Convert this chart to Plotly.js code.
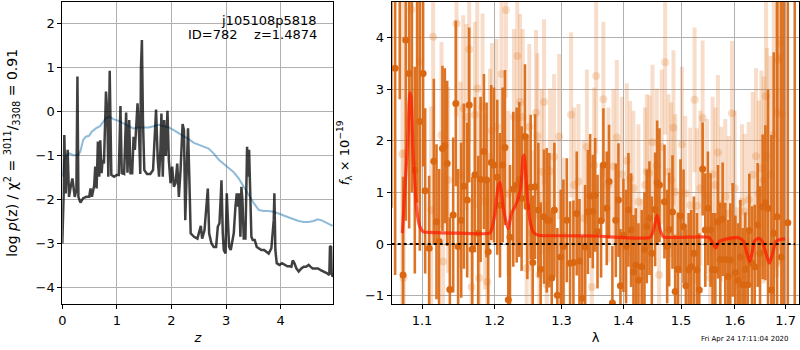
<!DOCTYPE html>
<html>
<head>
<meta charset="utf-8">
<script src="https://cdn.plot.ly/plotly-3.0.1.min.js"></script>
<style>html,body{margin:0;padding:0;background:#fff;}#plot{width:800px;height:350px;}</style>
</head>
<body>
<div id="plot"></div>
<script>
// ---- Left panel: log p(z) ----
const zPz = [0,0.025,0.037,0.062,0.098,0.123,0.154,0.185,0.228,0.258,0.277,0.295,0.332,0.382,0.443,0.492,0.517,0.542,0.585,0.603,0.628,0.652,0.677,0.695,0.72,0.738,0.763,0.782,0.80,0.825,0.843,0.868,0.886,0.898,0.948,0.997,1.034,1.065,1.089,1.132,1.169,1.194,1.225,1.249,1.28,1.305,1.329,1.354,1.378,1.403,1.428,1.44,1.458,1.477,1.502,1.551,1.612,1.662,1.686,1.717,1.748,1.772,1.797,1.815,1.84,1.865,1.895,1.926,1.951,1.982,2.012,2.043,2.074,2.105,2.135,2.166,2.203,2.228,2.252,2.277,2.302,2.326,2.351,2.412,2.474,2.537,2.561,2.604,2.634,2.665,2.689,2.732,2.774,2.817,2.848,2.878,2.902,2.915,2.939,2.957,2.988,3.012,3.037,3.055,3.085,3.11,3.14,3.171,3.195,3.22,3.238,3.262,3.28,3.299,3.323,3.354,3.372,3.384,3.402,3.421,3.439,3.463,3.488,3.524,3.561,3.598,3.646,3.695,3.738,3.78,3.829,3.854,3.872,3.884,3.902,3.927,3.976,4.024,4.073,4.122,4.159,4.195,4.22,4.25,4.287,4.329,4.378,4.421,4.463,4.512,4.543,4.585,4.634,4.683,4.732,4.787,4.85,4.89,4.902,4.921,4.933,4.951,4.97];
const logPz = [-3.00,-1.86,-0.53,-1.86,-0.87,-1.94,-1.71,-1.52,-1.94,-1.78,0.80,-1.94,-2.07,-1.97,-1.94,-1.94,-1.75,-1.94,-1.67,-1.25,-1.75,-0.68,-1.48,-0.65,-1.40,-1.10,-1.18,-0.34,0.46,-0.04,-1.48,0.93,-0.19,-1.44,-1.48,-1.44,-1.44,0.13,-1.40,-1.42,-0.02,-1.39,-0.19,-1.40,-1.40,-0.57,-0.87,-0.19,0.19,-0.42,-1.42,0.99,1.63,-0.19,-1.33,-1.42,-1.42,-1.33,-0.80,0.05,-1.10,-1.48,-0.87,-0.04,-1.48,-0.19,-1.01,0.02,-1.10,-1.63,-1.25,-1.71,-1.63,-1.18,-1.94,-1.33,-0.28,-0.42,-2.47,-1.10,-0.38,-1.48,-2.77,-2.85,-2.89,-2.60,-2.89,-2.70,-2.24,-1.75,-2.77,-3.00,-3.08,-3.08,-2.62,-2.54,-1.94,-1.56,-2.77,-3.15,-3.23,-1.86,-2.58,-3.08,-3.15,-2.92,-2.77,-2.16,-1.86,-2.16,-1.86,-2.85,-1.71,-2.01,-2.89,-2.89,-1.48,-0.80,-1.48,-0.87,-1.71,-2.85,-2.92,-2.92,-3.08,-3.11,-3.15,-3.15,-3.19,-3.23,-3.11,-2.77,-2.47,-1.86,-3.15,-3.45,-3.49,-3.45,-3.49,-3.52,-3.52,-3.53,-3.39,-3.45,-3.57,-3.64,-3.57,-3.53,-3.53,-3.49,-3.53,-3.57,-3.57,-3.57,-3.61,-3.64,-3.68,-3.72,-3.08,-3.06,-3.68,-3.76,-3.72];

const zChi2 = [0.012,0.037,0.074,0.135,0.197,0.29,0.33,0.38,0.43,0.49,0.535,0.615,0.69,0.75,0.80,0.86,0.935,1.03,1.12,1.21,1.30,1.40,1.49,1.58,1.67,1.77,1.86,1.95,2.04,2.14,2.23,2.32,2.41,2.52,2.62,2.68,2.77,2.87,2.96,3.05,3.14,3.23,3.32,3.41,3.51,3.60,3.69,3.78,3.87,3.96,4.05,4.15,4.24,4.33,4.42,4.51,4.60,4.68,4.76,4.85,4.95];
const chi2Curve = [-1.48,-1.10,-0.99,-0.95,-0.99,-0.99,-0.91,-0.65,-0.57,-0.55,-0.46,-0.38,-0.33,-0.23,-0.15,-0.11,-0.17,-0.21,-0.27,-0.33,-0.38,-0.36,-0.36,-0.36,-0.33,-0.30,-0.33,-0.36,-0.42,-0.49,-0.57,-0.63,-0.71,-0.76,-0.80,-0.84,-0.95,-1.10,-1.19,-1.29,-1.38,-1.52,-1.71,-1.90,-2.09,-2.24,-2.26,-2.26,-2.28,-2.32,-2.37,-2.41,-2.45,-2.49,-2.51,-2.51,-2.49,-2.45,-2.48,-2.54,-2.60];

// ---- Right panel: spectrum ----
const waveA = [1.0603,1.0651,1.0710,1.0753,1.0787,1.0831,1.0866,1.0905,1.0935,1.0970,1.1014,1.1041,1.1094,1.1156,1.1192,1.1227,1.1272,1.1304,1.1336,1.1372,1.1418,1.1454,1.1486,1.1528,1.1565,1.1611,1.1639,1.1681,1.1719,1.1766,1.1799,1.1846,1.1884,1.1907,1.1950,1.1989,1.2037,1.2076,1.2114,1.2148,1.2197,1.2221,1.2270,1.2320,1.2359,1.2393,1.2443,1.2478,1.2528,1.2559,1.2594,1.2644,1.2679,1.2730,1.2771,1.2812,1.2848,1.2889,1.2935,1.2988,1.3029,1.3082,1.3134,1.3186,1.3239,1.3282,1.3325,1.3373,1.3416,1.3453,1.3496,1.3534,1.3572,1.3630,1.3668,1.3723,1.3761,1.3816,1.3872,1.3917,1.3950,1.4000,1.4044,1.4084,1.4129,1.4169,1.4209,1.4254,1.4311,1.4357,1.4397,1.4443,1.4484,1.4542,1.4577,1.4617,1.4705,1.4753,1.4788,1.4847,1.4895,1.4942,1.4990,1.5045,1.5087,1.5136,1.5184,1.5233,1.5288,1.5331,1.5393,1.5442,1.5491,1.5540,1.5578,1.5628,1.5678,1.5722,1.5766,1.5816,1.5866,1.5911,1.5956,1.6007,1.6059,1.6104,1.6149,1.6200,1.6246,1.6278,1.6331,1.6383,1.6442,1.6488,1.6540,1.6594,1.6647,1.6714,1.6761,1.6828,1.6916,1.6963,1.7045,1.7188];
const fluxA = [5.2,3.40,5.5,-0.6,3.95,3.30,5.0,1.43,4.8,2.37,3.30,1.03,-0.08,1.60,0.43,0.05,1.85,1.90,1.56,-0.88,0.56,2.72,-0.05,0.46,1.12,0.85,2.69,-0.10,1.34,0.21,1.25,1.79,1.24,-0.15,1.58,1.53,1.29,0.75,1.53,1.87,-1.08,0.13,1.06,1.14,1.25,0.88,2.08,0.72,1.10,-0.36,1.11,0.66,-0.49,0.53,0.46,0.46,-0.66,0.66,-0.99,-0.25,-0.05,0.46,-0.37,-0.36,0.59,-0.33,-1.05,-0.06,0.62,0.93,0.63,0.95,0.24,0.45,1.53,0.69,1.21,-1.14,0.46,0.85,-0.81,0.17,-0.05,0.66,0.27,-0.54,-0.41,-0.70,-0.44,-0.10,0.34,0.50,-0.18,0.67,1.19,1.14,0.82,-0.05,0.28,0.62,-0.92,-0.49,0.54,0.34,-0.81,-0.50,-0.44,-0.18,-0.50,-0.89,1.45,0.27,0.69,0.27,-0.50,-0.50,0.43,-0.30,0.48,-0.30,-0.63,-0.31,0.08,-0.55,-0.70,-0.25,-0.79,-0.49,-0.79,0.26,-0.37,-0.44,0.37,-0.18,0.72,0.80,0.69,-0.89,0.21,0.53,-0.25,6.0,0.41,-2.0];
const errA = [4.5,4.0,2.7,1.9,3.5,3.0,4.0,2.0,4.0,2.5,
  1.8,1.6,1.4,1.6,1.5,1.4,1.6,1.5,1.6,1.4,
  1.5,1.6,1.5,1.5,1.6,1.5,1.5,1.4,1.5,1.5,
  1.6,1.5,1.5,1.4,1.5,1.5,1.5,1.4,1.5,1.5,
  1.4,1.4,1.5,1.5,1.5,1.4,1.4,1.4,1.4,1.3,
  1.4,1.3,1.3,1.3,1.4,1.3,1.3,1.3,1.3,1.3,
  1.3,1.2,1.2,1.2,1.2,1.2,1.2,1.2,1.2,1.2,
  1.1,1.1,1.1,1.1,1.1,1.1,1.1,1.1,1.1,1.1,
  1.1,1.1,1.1,1.1,1.1,1.1,1.1,1.1,1.1,1.1,
  1.1,1.1,1.1,1.1,1.2,1.1,1.1,1.1,1.1,1.1,
  1.1,1.1,1.1,1.1,1.1,1.1,1.1,1.1,1.1,1.1,
  0.9,1.1,1.1,1.1,1.1,1.1,1.1,1.1,1.1,1.1,
  1.1,1.1,1.1,1.1,1.1,1.1,1.1,1.1,1.1,1.1,
  1.1,1.2,1.2,1.3,1.4,1.5,2.3,3.0,3.5,5.0,
  6.0,8.0,6.0,8.0];

const waveB = [1.0745,1.0760,1.0861,1.0970,1.1120,1.1147,1.1259,1.1281,1.1349,1.1463,1.1519,1.1556,1.1602,1.1639,1.1672,1.1719,1.1752,1.1780,1.1827,1.1860,1.1893,1.1931,1.1960,1.2027,1.2099,1.2162,1.2197,1.2280,1.2329,1.2369,1.2408,1.2468,1.2508,1.2543,1.2609,1.2629,1.2659,1.2695,1.2730,1.2771,1.2822,1.2884,1.2962,1.3029,1.3149,1.3197,1.3266,1.3346,1.3400,1.3480,1.3518,1.3550,1.3668,1.3750,1.3833,1.3889,1.3972,1.4056,1.4112,1.4169,1.4254,1.4311,1.4368,1.4397,1.4443,1.4496,1.4571,1.4611,1.4658,1.4717,1.4776,1.4824,1.4865,1.4895,1.4966,1.5015,1.5076,1.5166,1.5245,1.5288,1.5350,1.5393,1.5473,1.5534,1.5578,1.5628,1.5678,1.5741,1.5816,1.5879,1.5943,1.5995,1.6040,1.6136,1.6187,1.6265,1.6344,1.6409,1.6462,1.6514,1.6560,1.6607,1.6625,1.6694,1.6761,1.6828,1.6848,1.6881,1.6895,1.6929];
const fluxB = [1.74,-0.66,4.54,3.53,0.66,4.01,2.11,-0.34,1.24,4.27,1.34,2.63,2.46,3.77,-0.83,2.50,3.01,-0.66,2.66,0.82,-0.73,1.69,2.19,2.27,3.29,4.53,0.98,2.46,3.64,2.75,2.46,-0.47,2.27,0.21,2.54,2.09,-0.60,1.40,2.75,-0.79,1.41,1.69,2.08,0.17,2.50,1.14,1.21,0.50,1.88,-0.83,1.53,3.25,2.80,1.14,1.50,2.06,1.35,1.61,1.27,1.08,0.82,-0.63,1.14,1.40,1.38,1.97,1.51,-0.60,1.88,3.52,1.40,1.24,2.25,1.01,-0.50,1.93,0.98,0.75,2.79,0.74,1.08,2.44,0.92,-0.66,1.35,1.14,1.77,0.77,0.92,0.59,2.53,1.08,-0.79,0.82,0.63,0.86,1.34,1.70,0.98,1.46,1.24,2.86,1.70,1.34,2.12,2.56,3.56,3.61,3.88,2.50];
const errB = [3.0,2.5,3.0,2.5,2.0,2.0,1.8,1.7,1.8,1.8,1.8,1.8,1.8,1.8,1.7,1.8,1.8,1.7,1.8,1.7,1.7,1.7,1.7,1.7,1.7,1.7,1.6,1.7,1.7,1.7,1.7,1.6,1.6,1.6,1.6,1.6,1.6,1.6,1.6,1.6,1.6,1.6,1.6,1.5,1.6,1.5,1.5,1.5,1.5,1.5,1.5,1.5,1.5,1.5,1.5,1.5,1.5,1.5,1.5,1.5,1.5,1.5,1.5,1.5,1.5,1.5,1.5,1.5,1.5,1.4,1.5,1.5,1.5,1.5,1.5,1.5,1.5,1.5,1.4,1.5,1.5,1.5,1.5,1.5,1.5,1.5,1.5,1.5,1.5,1.5,1.4,1.5,1.5,1.5,1.5,1.5,1.6,1.7,1.8,1.9,2.0,2.0,2.1,2.3,2.6,3.2,4.0,4.0,4.0,4.0];

const modelWave = [1.0744,1.0818,1.0826,1.0839,1.0855,1.0882,1.0926,1.0970,1.1014,1.1200,1.1500,1.1930,1.1954,1.2002,1.2050,1.2074,1.2098,1.2122,1.2160,1.2195,1.2244,1.2318,1.2382,1.2417,1.2432,1.2467,1.2517,1.2567,1.2642,1.3000,1.3531,1.4455,1.4513,1.4577,1.4630,1.4688,1.5502,1.5564,1.5639,1.5701,1.5815,1.5942,1.6069,1.6166,1.6231,1.6283,1.6329,1.6381,1.6460,1.6526,1.6605,1.6672,1.6739,1.6806,1.6894,1.6994];
const modelFlux = [0.21,2.14,2.55,2.92,2.85,1.82,0.72,0.34,0.24,0.22,0.21,0.21,0.27,0.59,1.11,1.20,1.00,0.72,0.45,0.30,0.59,0.79,1.11,1.69,1.72,1.11,0.46,0.23,0.17,0.16,0.155,0.13,0.27,0.56,0.27,0.14,0.13,0.05,-0.08,0.05,0.09,0.12,0.12,0.05,-0.18,-0.34,-0.18,0.06,0.11,0.06,-0.18,-0.37,-0.18,0.05,0.09,0.10];

const zeroLevel = 0;
const leftXTicks = [0,1,2,3,4];
const leftYTicks = [-4,-3,-2,-1,0,1,2];
const rightXTicks = [1.1,1.2,1.3,1.4,1.5,1.6,1.7];
const rightXLabels = ['1.1','1.2','1.3','1.4','1.5','1.6','1.7'];
const rightYTicks = [-1,0,1,2,3,4];

const darkOrange = 'rgb(218,104,18)';
const lightOrange = 'rgba(226,115,35,0.24)';
const font = {family: 'DejaVu Sans, sans-serif', size: 13, color: '#000'};

const traces = [
  {x: zChi2, y: chi2Curve, xaxis: 'x', yaxis: 'y', mode: 'lines',
   line: {color: 'rgba(31,119,180,0.5)', width: 2}, hoverinfo: 'skip'},
  {x: zPz, y: logPz, xaxis: 'x', yaxis: 'y', mode: 'lines',
   line: {color: 'rgba(0,0,0,0.75)', width: 2.5}, hoverinfo: 'skip'},
  {x: waveB, y: fluxB, xaxis: 'x2', yaxis: 'y2', mode: 'markers',
   marker: {color: lightOrange, size: 8},
   error_y: {type: 'data', array: errB, visible: true, color: lightOrange, thickness: 4, width: 0}},
  {x: waveA, y: fluxA, xaxis: 'x2', yaxis: 'y2', mode: 'markers',
   marker: {color: darkOrange, size: 7},
   error_y: {type: 'data', array: errA, visible: true, color: 'rgba(218,104,18,0.92)', thickness: 2.6, width: 0}},
  {x: modelWave, y: modelFlux, xaxis: 'x2', yaxis: 'y2', mode: 'lines', line: {color: 'rgba(255,25,0,0.72)', width: 3.2, shape: 'spline', smoothing: 0.6}}
];

const gridC = '#b0b0b0';
const axBase = {showline: true, linecolor: '#000', linewidth: 1, mirror: true, ticks: 'outside', ticklen: 4, tickcolor: '#000',
  showgrid: true, gridcolor: gridC, gridwidth: 1, zeroline: false, tickfont: font};

const layout = {
  width: 800, height: 350, margin: {l: 0, r: 0, t: 0, b: 0},
  paper_bgcolor: '#fff', plot_bgcolor: '#fff', showlegend: false, font: font,
  xaxis: Object.assign({}, axBase, {domain: [62.3/800, 333.3/800], range: [0, 4.963], tickvals: leftXTicks, anchor: 'y',
    title: {text: '<i>z</i>', font: font, standoff: 6}}),
  yaxis: Object.assign({}, axBase, {domain: [46/350, 348.3/350], range: [-4.38, 2.505], tickvals: leftYTicks, anchor: 'x',
    title: {text: 'log <i>p</i>(z) / χ<sup>2</sup> = <sup>3011</sup>/<sub>3308</sub> = 0.91', font: {family: 'DejaVu Sans, sans-serif', size: 14, color: '#000'}, standoff: 14}}),
  xaxis2: Object.assign({}, axBase, {domain: [391.7/800, 799.3/800], type: 'log', range: [0.02561, 0.23759], tickvals: rightXTicks, ticktext: rightXLabels, anchor: 'y2',
    title: {text: 'λ', font: font, standoff: 6}}),
  yaxis2: Object.assign({}, axBase, {domain: [46/350, 348.3/350], range: [-1.161, 4.69], tickvals: rightYTicks, anchor: 'x2',
    title: {text: '<i>f</i><sub>λ</sub> × 10<sup>−19</sup>', font: font, standoff: 12}}),
  shapes: [
    {type: 'line', xref: 'x2 domain', yref: 'y2', x0: 0, x1: 0.99, y0: zeroLevel, y1: zeroLevel,
     line: {color: '#000', width: 2, dash: 'dot'}}
  ],
  annotations: [
    {xref: 'paper', yref: 'paper', x: 319/800, y: 1 - 20.5/350, xanchor: 'right', yanchor: 'middle', showarrow: false,
     text: 'j105108p5818', font: font},
    {xref: 'paper', yref: 'paper', x: 319/800, y: 1 - 34.5/350, xanchor: 'right', yanchor: 'middle', showarrow: false,
     text: 'ID=782    z=1.4874', font: font},
    {xref: 'paper', yref: 'paper', x: 745/800, y: 1 - 339/350, xanchor: 'center', yanchor: 'middle', showarrow: false,
     text: 'Fri Apr 24 17:11:04 2020', font: {family: 'DejaVu Sans, sans-serif', size: 7, color: '#000'}}
  ]
};

Plotly.newPlot('plot', traces, layout, {staticPlot: true, displayModeBar: false});
</script>
</body>
</html>
